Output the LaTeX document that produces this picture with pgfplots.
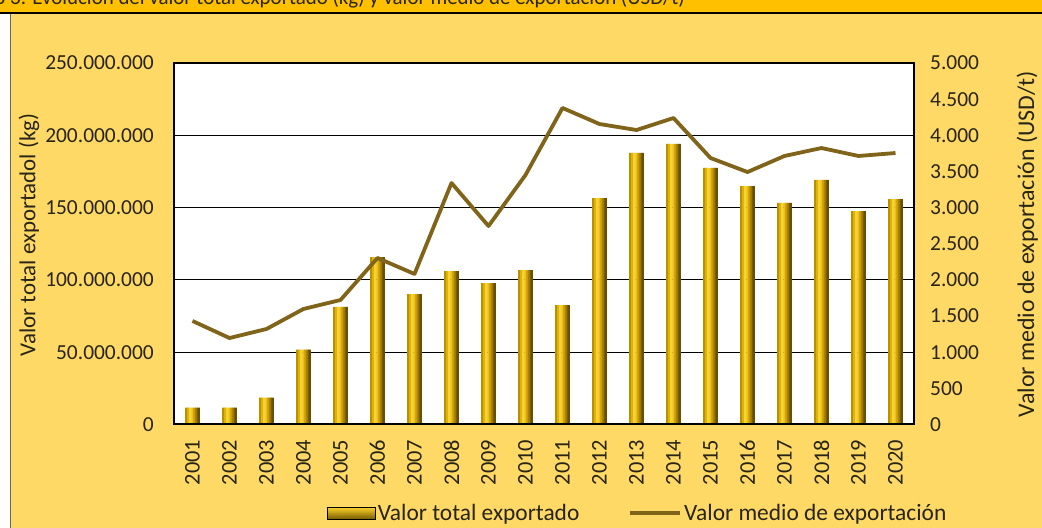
\documentclass[border=0pt]{standalone}
\usepackage{pgfplots}
\usepackage{pgfplotstable}
\pgfplotsset{compat=1.18}
\usepackage{fontspec}
\setmainfont{Carlito}
\definecolor{strip}{RGB}{255,192,0}
\definecolor{bg}{RGB}{255,217,102}
\definecolor{sA}{RGB}{185,145,0}
\definecolor{sB}{RGB}{222,178,10}
\definecolor{sC}{RGB}{248,210,45}
\definecolor{sD}{RGB}{236,192,22}
\definecolor{sE}{RGB}{200,156,6}
\definecolor{sF}{RGB}{158,120,0}
\definecolor{sG}{RGB}{105,80,0}
\definecolor{barlt}{RGB}{252,212,40}
\definecolor{bardk}{RGB}{120,90,0}
\definecolor{lineol}{RGB}{127,100,25}
\definecolor{txt}{RGB}{40,36,22}
\pgfplotstableread{
x kg
0 11600000
1 11600000
2 18500000
3 51800000
4 81300000
5 115800000
6 90200000
7 106000000
8 97700000
9 106800000
10 82600000
11 156600000
12 187800000
13 194000000
14 177400000
15 164900000
16 153200000
17 169100000
18 147600000
19 155900000
}\kgtable
\pgfplotstableread{
x usd
0 1432
1 1196
2 1321
3 1598
4 1722
5 2303
6 2082
7 3340
8 2745
9 3451
10 4378
11 4156
12 4073
13 4239
14 3686
15 3492
16 3714
17 3824
18 3714
19 3755
}\usdtable
\begin{document}
\begin{tikzpicture}
\useasboundingbox (0,0) rectangle (1042bp,528bp);
\clip (0,0) rectangle (1042bp,528bp);
\fill[white] (0,0) rectangle (1042bp,528bp);
\fill[bg] (10bp,0) rectangle (1042bp,515bp);
\draw[black!60, line width=1bp] (10.5bp,0) -- (10.5bp,515bp);
\fill[strip] (0,515bp) rectangle (1042bp,528bp);
\node[anchor=base east, inner sep=0pt, font=\fontsize{21}{24}\selectfont, text=txt] at (685bp,523bp) {Gráfico 3. Evolución del valor total exportado (kg) y valor medio de exportación (USD/t)};
\draw[black, line width=1.5bp] (0,515bp) -- (1042bp,515bp);

\begin{axis}[
  at={(174bp,103.5bp)}, anchor=south west, scale only axis,
  width=740bp, height=361.5bp,
  xmin=-0.5, xmax=19.5, ymin=0, ymax=250000000,
  xtick={0,...,19},
  xticklabels={2001,2002,2003,2004,2005,2006,2007,2008,2009,2010,2011,2012,2013,2014,2015,2016,2017,2018,2019,2020},
  ytick={0,50000000,100000000,150000000,200000000,250000000},
  yticklabels={0,50.000.000,100.000.000,150.000.000,200.000.000,250.000.000},
  scaled y ticks=false,
  major tick length=0pt,
  ymajorgrids, grid style={black, line width=1bp},
  axis line style={black, line width=1.5bp},
  axis background/.style={fill=white},
  xticklabel style={rotate=90, anchor=east, inner sep=0pt, font=\fontsize{22.5}{25}\selectfont, text=txt},
  xticklabel shift=15bp,
  yticklabel style={inner sep=0pt, font=\fontsize{21.5}{24}\selectfont, text=txt},
  yticklabel shift=20bp,
  every axis y label/.style={at={(axis description cs:-0.196,0.524)}, rotate=90, anchor=center, font=\fontsize{23}{26}\selectfont, text=txt},
  ylabel={Valor total exportadol (kg)},
  every axis plot/.append style={ybar, bar width=2.5bp, draw=none},
]
\addplot[fill=sA, bar shift=-6.2bp] table[x=x,y=kg] {\kgtable};
\addplot[fill=sB, bar shift=-4.1bp] table[x=x,y=kg] {\kgtable};
\addplot[fill=sC, bar shift=-2.05bp] table[x=x,y=kg] {\kgtable};
\addplot[fill=sD, bar shift=0bp] table[x=x,y=kg] {\kgtable};
\addplot[fill=sE, bar shift=2.05bp] table[x=x,y=kg] {\kgtable};
\addplot[fill=sF, bar shift=4.1bp] table[x=x,y=kg] {\kgtable};
\addplot[fill=sG, bar shift=6.2bp] table[x=x,y=kg] {\kgtable};
\draw[black, line width=2.5bp] (rel axis cs:0,1) -- (rel axis cs:0,0) -- (rel axis cs:1,0);
\end{axis}

\begin{axis}[
  at={(174bp,103.5bp)}, anchor=south west, scale only axis,
  width=740bp, height=361.5bp,
  xmin=-0.5, xmax=19.5, ymin=0, ymax=5000,
  axis x line=none, axis y line*=right,
  ytick={0,500,1000,1500,2000,2500,3000,3500,4000,4500,5000},
  yticklabels={0,500,1.000,1.500,2.000,2.500,3.000,3.500,4.000,4.500,5.000},
  major tick length=0pt,
  axis line style={black, line width=1.5bp},
  yticklabel style={inner sep=0pt, font=\fontsize{21.5}{24}\selectfont, text=txt},
  yticklabel shift=16bp,
  every axis y label/.style={at={(axis description cs:1.153,0.499)}, rotate=90, anchor=center, font=\fontsize{24}{27}\selectfont, text=txt},
  ylabel={Valor medio de exportación (USD/t)},
  legend style={at={(axis description cs:0.627,-0.245)}, anchor=center, draw=none, fill=none,
    font=\fontsize{23.5}{26}\selectfont, legend columns=2,
    /tikz/every even column/.append style={column sep=46bp},
    nodes={inner sep=2.5bp, text=txt}},
  legend cell align=left,
]
\addlegendimage{legend image code/.code={\path[top color=barlt, bottom color=bardk] (0bp,-6bp) rectangle (48bp,6bp);}}
\addlegendentry{Valor total exportado}
\addplot[lineol, line width=3.8bp, line join=round, mark=none,
  legend image code/.code={\draw[lineol, line width=3.8bp] (0bp,0bp) -- (50bp,0bp);}] table[x=x,y=usd] {\usdtable};
\addlegendentry{Valor medio de exportación}
\end{axis}
\end{tikzpicture}
\end{document}
